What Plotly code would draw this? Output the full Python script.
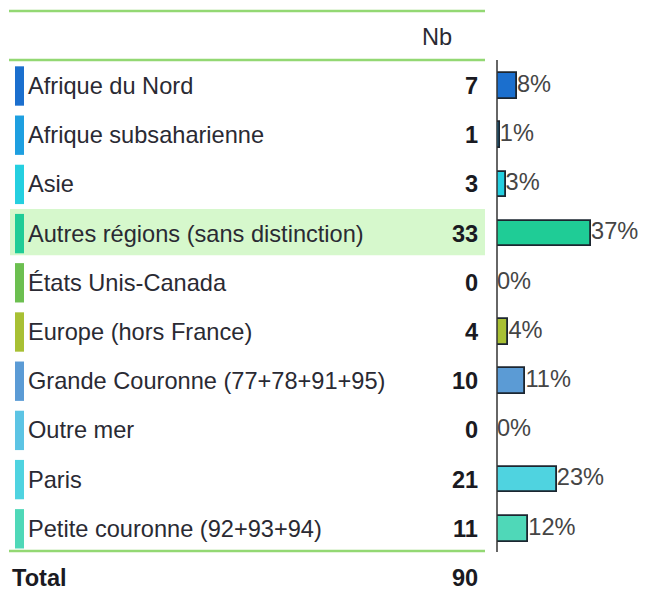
"""Origine géographique : tableau Nb + barres de répartition."""

import plotly.graph_objects as go

regions = [
    "Afrique du Nord",
    "Afrique subsaharienne",
    "Asie",
    "Autres régions (sans distinction)",
    "États Unis-Canada",
    "Europe (hors France)",
    "Grande Couronne (77+78+91+95)",
    "Outre mer",
    "Paris",
    "Petite couronne (92+93+94)",
]
nb = [7, 1, 3, 33, 0, 4, 10, 0, 21, 11]
colors = [
    "#1b6fce", "#1e9fe0", "#25cfe0", "#1fcc96", "#6cbf50",
    "#a8c034", "#5b9bd5", "#5cc4e4", "#4fd3e0", "#4fd8b8",
]
highlight = "Autres régions (sans distinction)"

total = sum(nb)
pct = [f"{round(v / total * 100)}%" for v in nb]
rows = list(range(len(regions)))

W, H = 646, 590
FONT = "Liberation Sans, Arial, sans-serif"
FS = 23.6
TXT = "#2a2a33"
GREEN = "#93d873"


def px(x):
    return x / W


fig = go.Figure()

fig.add_trace(
    go.Bar(
        x=nb,
        y=rows,
        orientation="h",
        width=0.52,
        marker=dict(color=colors, line=dict(color="#1c2630", width=1.8)),
        hoverinfo="skip",
        showlegend=False,
    )
)
fig.add_trace(
    go.Scatter(
        x=nb,
        y=rows,
        mode="text",
        text=pct,
        textposition="middle right",
        textfont=dict(family=FONT, size=FS, color="#454545"),
        cliponaxis=False,
        hoverinfo="skip",
        showlegend=False,
    )
)

shapes = []
annotations = []

# green rules of the table
for y in (-1.524, -0.528, 9.45):
    shapes.append(dict(type="line", xref="paper", yref="y", x0=px(9), x1=px(485),
                       y0=y, y1=y, line=dict(color=GREEN, width=2.5)))

# highlighted row
hi = regions.index(highlight)
shapes.append(dict(type="rect", xref="paper", yref="y", x0=px(10), x1=px(485),
                   y0=hi - 0.5, y1=hi + 0.44, fillcolor="#d6f8cc", line=dict(width=0),
                   layer="below"))

# bar axis
shapes.append(dict(type="line", xref="paper", yref="y", x0=px(497), x1=px(497),
                   y0=-0.53, y1=9.47, line=dict(color="#333333", width=1.5)))

for i, (name, v, c) in enumerate(zip(regions, nb, colors)):
    shapes.append(dict(type="rect", xref="paper", yref="y", x0=px(15), x1=px(24),
                       y0=i - 0.4, y1=i + 0.4, fillcolor=c, line=dict(width=0)))
    annotations.append(dict(x=px(26), y=i, xref="paper", yref="y", text=name,
                            showarrow=False, xanchor="left", yanchor="middle",
                            font=dict(family=FONT, size=FS, color=TXT)))
    annotations.append(dict(x=px(480), y=i, xref="paper", yref="y", text=f"<b>{v}</b>",
                            showarrow=False, xanchor="right", yanchor="middle",
                            font=dict(family=FONT, size=FS, color="#1a1a22")))

annotations.append(dict(x=px(437), y=-1, xref="paper", yref="y", text="Nb",
                        showarrow=False, xanchor="center", yanchor="middle",
                        font=dict(family=FONT, size=FS, color=TXT)))
annotations.append(dict(x=px(10), y=len(regions), xref="paper", yref="y", text="<b>Total</b>",
                        showarrow=False, xanchor="left", yanchor="middle",
                        font=dict(family=FONT, size=FS, color="#1a1a22")))
annotations.append(dict(x=px(480), y=len(regions), xref="paper", yref="y", text=f"<b>{total}</b>",
                        showarrow=False, xanchor="right", yanchor="middle",
                        font=dict(family=FONT, size=FS, color="#1a1a22")))

fig.update_layout(
    width=W,
    height=H,
    margin=dict(l=0, r=0, t=0, b=0),
    paper_bgcolor="white",
    plot_bgcolor="white",
    bargap=0,
    shapes=shapes,
    annotations=annotations,
    xaxis=dict(domain=[px(497), 1], range=[0, 52.3], visible=False, fixedrange=True),
    yaxis=dict(range=[10.244, -1.748], visible=False, fixedrange=True),
)

# drop the default 8px body margin so the figure fills the window exactly
fig.write_html(
    "out.html",
    config={"displayModeBar": False},
    post_script="document.body.style.margin='0';",
)
